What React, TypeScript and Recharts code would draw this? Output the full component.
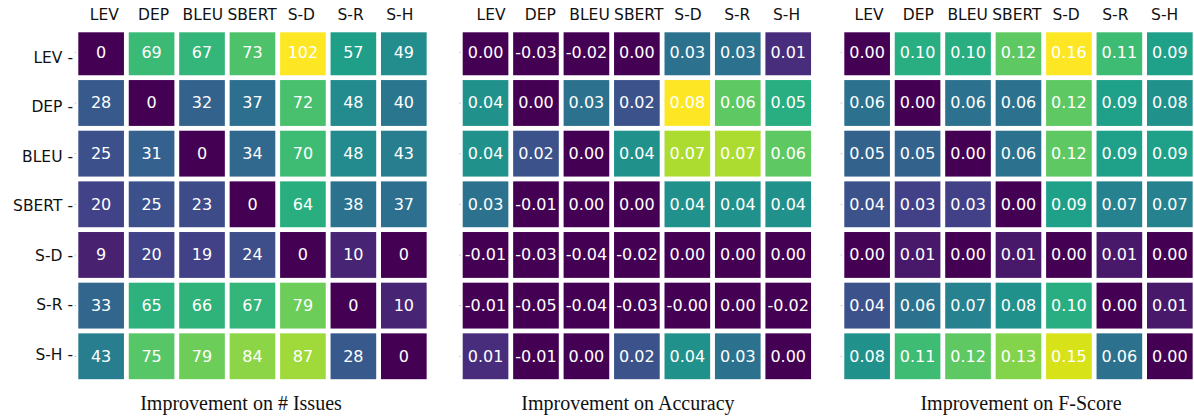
import React from 'react';
import { ScatterChart, Scatter, XAxis, YAxis, Label } from 'recharts';

const categories = ['LEV', 'DEP', 'BLEU', 'SBERT', 'S-D', 'S-R', 'S-H'];
const rowTickLabels = categories.map((c) => c + ' -');

const issues = [
  [0, 69, 67, 73, 102, 57, 49],
  [28, 0, 32, 37, 72, 48, 40],
  [25, 31, 0, 34, 70, 48, 43],
  [20, 25, 23, 0, 64, 38, 37],
  [9, 20, 19, 24, 0, 10, 0],
  [33, 65, 66, 67, 79, 0, 10],
  [43, 75, 79, 84, 87, 28, 0],
];
const accuracy = [
  [0.0, -0.03, -0.02, 0.0, 0.03, 0.03, 0.01],
  [0.04, 0.0, 0.03, 0.02, 0.08, 0.06, 0.05],
  [0.04, 0.02, 0.0, 0.04, 0.07, 0.07, 0.06],
  [0.03, -0.01, 0.0, 0.0, 0.04, 0.04, 0.04],
  [-0.01, -0.03, -0.04, -0.02, 0.0, 0.0, 0.0],
  [-0.01, -0.05, -0.04, -0.03, -0.004, 0.0, -0.02],
  [0.01, -0.01, 0.0, 0.02, 0.04, 0.03, 0.0],
];
const fscore = [
  [0.0, 0.1, 0.1, 0.12, 0.16, 0.11, 0.09],
  [0.06, 0.0, 0.06, 0.06, 0.12, 0.09, 0.08],
  [0.05, 0.05, 0.0, 0.06, 0.12, 0.09, 0.09],
  [0.04, 0.03, 0.03, 0.0, 0.09, 0.07, 0.07],
  [0.0, 0.01, 0.0, 0.01, 0.0, 0.01, 0.0],
  [0.04, 0.06, 0.07, 0.08, 0.1, 0.0, 0.01],
  [0.08, 0.11, 0.12, 0.13, 0.15, 0.06, 0.0],
];
const titles = ['Improvement on # Issues', 'Improvement on Accuracy', 'Improvement on F-Score'];
const colorMax = [102, 0.08, 0.16];

const VIRIDIS = [
  '#440154', '#48186a', '#472d7b', '#424086', '#3b528b', '#33638d', '#2c728e', '#26828e',
  '#21918c', '#1fa088', '#28ae80', '#3fbc73', '#5ec962', '#84d44b', '#addc30', '#d8e219', '#fde725',
];
function hexToRgb(h: string) {
  return [parseInt(h.slice(1, 3), 16), parseInt(h.slice(3, 5), 16), parseInt(h.slice(5, 7), 16)];
}
function viridis(t: number) {
  const c = Math.max(0, Math.min(1, t));
  const pos = c * (VIRIDIS.length - 1);
  const i = Math.min(VIRIDIS.length - 2, Math.floor(pos));
  const f = pos - i;
  const a = hexToRgb(VIRIDIS[i]);
  const b = hexToRgb(VIRIDIS[i + 1]);
  const r = a.map((v, k) => Math.round(v + (b[k] - v) * f));
  return `rgb(${r[0]},${r[1]},${r[2]})`;
}

const W = 1200;
const H = 417;
const GRID_TOP = 27;
const GRID_BOTTOM = 381.6;
const PITCH_X = 50.45;
const CLIP_TOP = 32.3;
const INSET = 2.4;
const TITLE_H = 30;
const SANS = '"DejaVu Sans", sans-serif';

const panelLayout = [
  { left: 75.9, titleX: 241, colOffset: 3.2, yW: 75.9, rowLabels: true, fmt: (v: number) => String(v) },
  { left: 460.3, titleX: 628, colOffset: 5.5, yW: 10, rowLabels: false, fmt: (v: number) => v.toFixed(2) },
  { left: 841.9, titleX: 1021, colOffset: 2, yW: 10, rowLabels: false, fmt: (v: number) => v.toFixed(2) },
];
const matrices = [issues, accuracy, fscore];

function Panel({ p }: { p: number }) {
  const lay = panelLayout[p];
  const gridLeft = lay.left;
  const gridRight = gridLeft + PITCH_X * 7;
  const cellW = (gridRight - gridLeft) / 7;
  const cellH = (GRID_BOTTOM - GRID_TOP) / 7;
  const data: any[] = [];
  matrices[p].forEach((row, i) =>
    row.forEach((v, j) => data.push({ x: j + 0.5, y: i + 0.5, v, row: i, col: j }))
  );
  const ticks = categories.map((_, i) => i + 0.5);

  const CellShape = (props: any) => {
    const { cx, cy, payload } = props;
    if (cx == null || cy == null) return null;
    const x0 = cx - cellW / 2 + INSET;
    let y0 = cy - cellH / 2 + INSET;
    const y1 = cy + cellH / 2 - INSET;
    if (y0 < CLIP_TOP) y0 = CLIP_TOP;
    return (
      <g>
        <rect x={x0} y={y0} width={cellW - 2 * INSET} height={y1 - y0}
          fill={viridis(payload.v / colorMax[p])} />
        <text x={cx} y={cy} fill="#ffffff" textAnchor="middle" dominantBaseline="central"
          fontSize={16} fontFamily={SANS}>
          {lay.fmt(payload.v)}
        </text>
      </g>
    );
  };

  const ColTick = (props: any) => {
    const { x, payload } = props;
    const idx = Math.floor(payload.value);
    return (
      <text x={x + lay.colOffset - 1.2 * idx} y={15.3} textAnchor="middle" dominantBaseline="central"
        fontSize={15.5} fontFamily={SANS} fill="#111">
        {categories[idx]}
      </text>
    );
  };

  const RowTick = (props: any) => {
    const { y, payload } = props;
    const idx = Math.floor(payload.value);
    return (
      <g>
        <line x1={gridLeft - 1.2} x2={gridLeft + 0.2} y1={y} y2={y} stroke="#bbbbbb" strokeWidth={1} />
        {lay.rowLabels ? (
          <text x={73} y={y + 5.5 - 1.2 * idx} textAnchor="end" dominantBaseline="central"
            fontSize={15.5} fontFamily={SANS} fill="#111">
            {rowTickLabels[idx]}
          </text>
        ) : null}
      </g>
    );
  };

  const TitleContent = () => (
    <text x={lay.titleX} y={409.5} textAnchor="middle" fontSize={20}
      fontFamily='"Liberation Serif", "Times New Roman", serif' fill="#111">
      {titles[p]}
    </text>
  );

  return (
    <div style={{ position: 'absolute', left: 0, top: 0, width: W, height: H }}>
      <ScatterChart width={W} height={H}
        margin={{ top: 0, left: gridLeft - lay.yW, right: W - gridRight, bottom: H - GRID_BOTTOM - TITLE_H }}>
        <XAxis xAxisId="top" type="number" dataKey="x" domain={[0, 7]} ticks={ticks} interval={0}
          orientation="top" height={GRID_TOP} axisLine={false} tickLine={false} tick={ColTick} />
        <XAxis xAxisId="bottom" type="number" dataKey="x" domain={[0, 7]} orientation="bottom"
          height={TITLE_H} axisLine={false} tickLine={false} tick={false}>
          <Label content={TitleContent} />
        </XAxis>
        <YAxis type="number" dataKey="y" domain={[0, 7]} reversed ticks={ticks} interval={0}
          width={lay.yW} axisLine={false} tickLine={false} tick={RowTick} />
        <Scatter xAxisId="top" data={data} isAnimationActive={false} shape={CellShape} />
      </ScatterChart>
    </div>
  );
}

export default function App() {
  return (
    <div style={{ position: 'absolute', left: 0, top: 0, width: 1194, height: 417, overflow: 'hidden', background: '#fff' }}>
      <Panel p={0} />
      <Panel p={1} />
      <Panel p={2} />
    </div>
  );
}
